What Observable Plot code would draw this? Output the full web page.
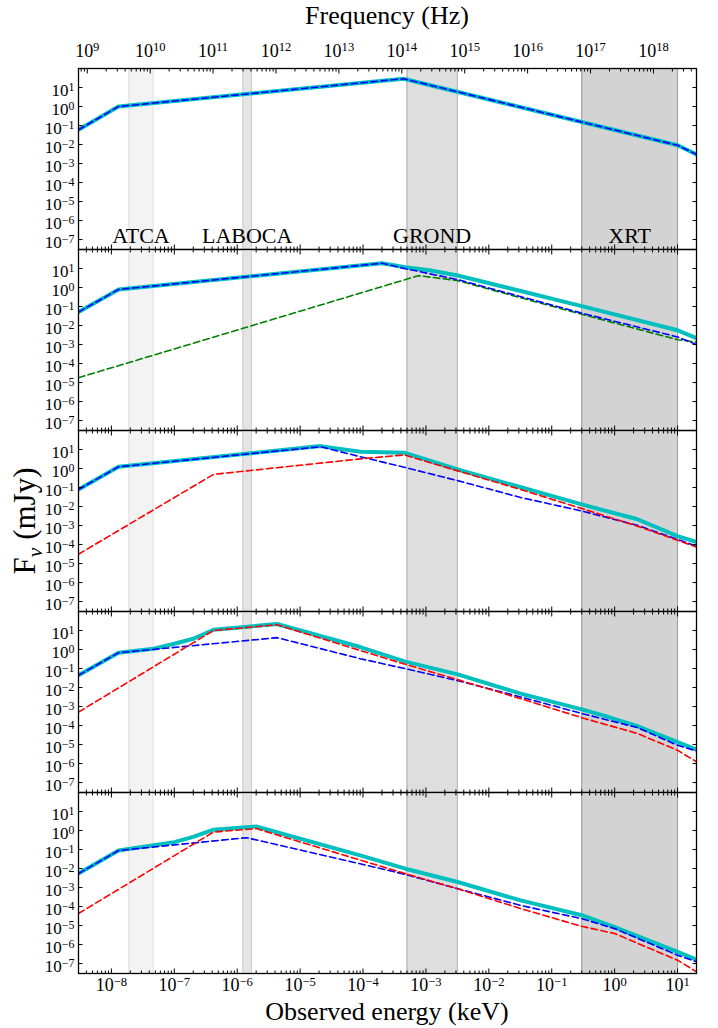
<!DOCTYPE html>
<html>
<head>
<meta charset="utf-8">
<script src="https://cdn.jsdelivr.net/npm/d3@7"></script>
<script src="https://cdn.jsdelivr.net/npm/@observablehq/plot@0.6"></script>
<style>
  html, body { margin: 0; padding: 0; background: #fff; }
  #fig { position: relative; width: 718px; height: 1028px; overflow: hidden;
         font-family: "Liberation Serif", "Times New Roman", serif; color: #000; }
  #fig svg { position: absolute; left: 0; overflow: visible; }
  .axlbl { position: absolute; white-space: nowrap; line-height: 1; font-family: "Liberation Serif", serif; }
</style>
</head>
<body>
<div id="fig"></div>
<script>
// ---------------- DATA ----------------
const energyDomain = [3e-9, 20];      // keV
const fluxDomain = [3e-8, 100];       // mJy
const keVtoHz = 2.418e17;

const energyTickExp = [-8, -7, -6, -5, -4, -3, -2, -1, 0, 1];
const freqTickExp = [9, 10, 11, 12, 13, 14, 15, 16, 17, 18];
const fluxTickExp = [-7, -6, -5, -4, -3, -2, -1, 0, 1];

const bandNames = ["ATCA", "LABOCA", "GROND", "XRT"];
const bandLo = [1.9e-8, 1.23e-6, 5.0e-4, 0.3];
const bandHi = [4.6e-8, 1.69e-6, 3.15e-3, 10];

// Panel 1
const p1_total_keV = [3e-9, 1.3e-8, 4.4e-4, 10, 20];
const p1_total_mJy = [0.06, 1.0, 29, 0.0091, 0.003];
const p1_blue_keV = [3e-9, 1.3e-8, 4.4e-4, 10, 20];
const p1_blue_mJy = [0.06, 1.0, 29, 0.0091, 0.003];

// Panel 2
const p2_total_keV = [3e-9, 1.3e-8, 2e-4, 4.7e-4, 1.2e-3, 3.2e-3, 0.3, 10, 20];
const p2_total_mJy = [0.051, 0.79, 19, 11.7, 7.9, 4.3, 0.105, 0.0056, 0.0022];
const p2_blue_keV = [3e-9, 1.3e-8, 2e-4, 4.7e-4, 3.2e-3, 0.3, 10, 20];
const p2_blue_mJy = [0.051, 0.79, 19, 9.8, 2.6, 0.045, 0.0025, 0.001];
const p2_green_keV = [3e-9, 7.6e-4, 3.2e-3, 0.3, 10, 20];
const p2_green_mJy = [1.8e-5, 4.2, 2.3, 0.039, 0.0018, 0.00135];

// Panel 3
const p3_total_keV = [3e-9, 1.3e-8, 2.1e-5, 9e-5, 4.5e-4, 3.2e-3, 0.3, 2.3, 10, 20];
const p3_total_mJy = [0.079, 1.23, 15.1, 7.6, 6.8, 0.89, 0.0129, 0.00214, 2.8e-4, 1.35e-4];
const p3_blue_keV = [3e-9, 1.3e-8, 2.1e-5, 9e-5, 4.5e-4, 3.2e-3, 0.032, 0.3, 2.3, 20];
const p3_blue_mJy = [0.079, 1.23, 14, 4.2, 1.17, 0.23, 0.030, 0.0058, 0.00102, 8.3e-5];
const p3_red_keV = [3e-9, 4.2e-7, 9e-5, 4.5e-4, 3.2e-3, 0.032, 0.3, 2.3, 20];
const p3_red_mJy = [3.1e-5, 0.49, 3.2, 5.2, 0.75, 0.079, 0.0078, 0.00093, 7.4e-5];

// Panel 4
const p4_total_keV = [3e-9, 1.3e-8, 4.7e-8, 1e-7, 2e-7, 4.2e-7, 4.3e-6, 9e-5, 4.7e-4, 3.2e-3, 0.032, 0.3, 0.8, 2.3, 10, 20];
const p4_total_mJy = [0.044, 0.68, 1.1, 2.0, 3.7, 11, 22, 1.35, 0.23, 0.049, 0.0048, 7.1e-4, 2.8e-4, 9.3e-5, 1.35e-5, 5.5e-6];
const p4_blue_keV = [3e-9, 1.3e-8, 4.3e-6, 9e-5, 4.7e-4, 3.2e-3, 0.032, 0.3, 2.3, 10, 20];
const p4_blue_mJy = [0.044, 0.68, 4.2, 0.33, 0.098, 0.023, 0.0032, 4.3e-4, 7.8e-5, 9.1e-6, 4.6e-6];
const p4_red_keV = [3e-9, 4.2e-7, 4.3e-6, 9e-5, 4.7e-4, 3.2e-3, 0.032, 0.3, 2.3, 10, 20];
const p4_red_mJy = [5.1e-4, 10, 20, 0.89, 0.166, 0.026, 0.0026, 2.6e-4, 3.8e-5, 5e-6, 1.23e-6];

// Panel 5
const p5_total_keV = [3e-9, 1.3e-8, 4.7e-8, 1e-7, 2e-7, 4.2e-7, 2e-6, 9e-5, 4.7e-4, 3.2e-3, 0.032, 0.3, 1.0, 10, 20];
const p5_total_mJy = [0.0054, 0.089, 0.166, 0.245, 0.46, 1.1, 1.62, 0.049, 0.0098, 0.00195, 2.1e-4, 3.5e-5, 8.3e-6, 4.1e-7, 1.6e-7];
const p5_blue_keV = [3e-9, 1.3e-8, 1.4e-6, 9e-5, 4.7e-4, 3.2e-3, 0.032, 0.3, 1.0, 10, 20];
const p5_blue_mJy = [0.0054, 0.089, 0.42, 0.0178, 0.0049, 8.7e-4, 1.15e-4, 2.3e-5, 6.9e-6, 2.75e-7, 1.23e-7];
const p5_red_keV = [3e-9, 4.2e-7, 2e-6, 9e-5, 4.7e-4, 3.2e-3, 0.032, 0.3, 1.0, 10, 20];
const p5_red_mJy = [4.3e-5, 0.83, 1.26, 0.028, 0.0054, 8.7e-4, 7.8e-5, 9.1e-6, 3.8e-6, 1.5e-7, 3.7e-8];

// ---------------- STYLE / LAYOUT ----------------
const FONT = '"Liberation Serif", "Times New Roman", serif';
const W = 718, ML = 78, MR = 22, TOP = 68, PH = 181, BOTTOM = 55;
const CYAN = "#00bfbf", BLUE = "#0000ff", RED = "#ff0000", GREEN = "#008000";
const DASH = "6.5,3.5";
const TICKFONT = 18, YTICKFONT = 17;
const bandStyle = {
  ATCA:   {fill: "#f3f3f3", edge: "#dcdcdc"},
  LABOCA: {fill: "#e4e4e4", edge: "#cccccc"},
  GROND:  {fill: "#dedede", edge: "#a8a8a8"},
  XRT:    {fill: "#d3d3d3", edge: "#999999"}
};

const rows = (E, F) => E.map((e, i) => ({e, f: F[i]}));
const bands = bandNames.map((name, i) => ({name, lo: bandLo[i], hi: bandHi[i]}));

const majorE = energyTickExp.map(k => 10 ** k);
const majorHz = freqTickExp.map(k => 10 ** k);
const majorF = fluxTickExp.map(k => 10 ** k);
function minorTicks(lo, hi) {
  const out = [];
  for (let k = Math.floor(Math.log10(lo)); k <= Math.ceil(Math.log10(hi)); k++)
    for (let m = 2; m <= 9; m++) { const v = m * 10 ** k; if (v >= lo && v <= hi) out.push(v); }
  return out;
}
const minorE = minorTicks(energyDomain[0], energyDomain[1]);
const hzDomain = [energyDomain[0] * keVtoHz, energyDomain[1] * keVtoHz];
const minorHz = minorTicks(hzDomain[0], hzDomain[1]);
const fmtPow = d => "10^" + String(Math.round(Math.log10(d))).replace("-", "\u2212");

const panels = [
  {total: rows(p1_total_keV, p1_total_mJy), comps: [[rows(p1_blue_keV, p1_blue_mJy), BLUE]]},
  {total: rows(p2_total_keV, p2_total_mJy), comps: [[rows(p2_green_keV, p2_green_mJy), GREEN], [rows(p2_blue_keV, p2_blue_mJy), BLUE]]},
  {total: rows(p3_total_keV, p3_total_mJy), comps: [[rows(p3_blue_keV, p3_blue_mJy), BLUE], [rows(p3_red_keV, p3_red_mJy), RED]]},
  {total: rows(p4_total_keV, p4_total_mJy), comps: [[rows(p4_blue_keV, p4_blue_mJy), BLUE], [rows(p4_red_keV, p4_red_mJy), RED]]},
  {total: rows(p5_total_keV, p5_total_mJy), comps: [[rows(p5_blue_keV, p5_blue_mJy), BLUE], [rows(p5_red_keV, p5_red_mJy), RED]]}
];

const fig = document.getElementById("fig");
const svgStyle = {background: "transparent", overflow: "visible", fontFamily: FONT, fontSize: TICKFONT + "px", color: "black"};

const tickAxis = (k, anchor, ticks, size) =>
  (k === "x" ? Plot.axisX : Plot.axisY)({anchor, ticks, tickSize: -size, fill: "none", stroke: "black",
    strokeWidth: 1, label: null, tickFormat: () => ""});

panels.forEach((p, i) => {
  const first = i === 0, last = i === panels.length - 1;
  const mt = first ? TOP : 0, mb = last ? BOTTOM : 0;
  const marks = [];
  bands.forEach(b => {
    marks.push(Plot.rect([b], {x1: "lo", x2: "hi", fill: bandStyle[b.name].fill}));
    marks.push(Plot.ruleX([b.lo, b.hi], {stroke: bandStyle[b.name].edge, strokeWidth: 1}));
  });
  marks.push(Plot.line(p.total, {x: "e", y: "f", stroke: CYAN, strokeWidth: 4, strokeLinejoin: "round", clip: true}));
  p.comps.forEach(([data, color]) =>
    marks.push(Plot.line(data, {x: "e", y: "f", stroke: color, strokeWidth: 1.6, strokeDasharray: DASH, clip: true})));
  if (first) {
    marks.push(Plot.text(bands, {x: d => Math.sqrt(d.lo * d.hi), text: "name", frameAnchor: "bottom",
      lineAnchor: "bottom", dy: -7, fontSize: 22, fill: "black"}));
  }
  // ticks (inward, all four sides)
  marks.push(tickAxis("x", "bottom", majorE, 4.5), tickAxis("x", "bottom", minorE, 2.5));
  if (!first) marks.push(tickAxis("x", "top", majorE, 4.5), tickAxis("x", "top", minorE, 2.5));
  marks.push(tickAxis("y", "left", majorF, 4.5), tickAxis("y", "right", majorF, 4.5));
  // labels
  marks.push(Plot.axisY({anchor: "left", ticks: majorF, tickSize: 0, tickPadding: 4, tickFormat: fmtPow,
    label: null, dy: 3, fill: "black", fontSize: YTICKFONT}));
  if (last) marks.push(Plot.axisX({anchor: "bottom", ticks: majorE, tickSize: 0, tickPadding: 5,
    tickFormat: fmtPow, label: null, fill: "black", fontSize: TICKFONT}));
  marks.push(Plot.frame({stroke: "black", strokeWidth: 1.3}));

  const svg = Plot.plot({
    width: W, height: PH + mt + mb, marginLeft: ML, marginRight: MR, marginTop: mt, marginBottom: mb,
    style: svgStyle,
    x: {type: "log", domain: energyDomain},
    y: {type: "log", domain: fluxDomain},
    marks
  });
  svg.style.top = (first ? 0 : TOP + PH * i) + "px";
  fig.appendChild(svg);
});

// top frequency axis (overlay on first panel)
const topSvg = Plot.plot({
  width: W, height: TOP + PH, marginLeft: ML, marginRight: MR, marginTop: TOP, marginBottom: 0,
  style: svgStyle,
  x: {type: "log", domain: hzDomain},
  marks: [
    Plot.axisX({anchor: "top", ticks: majorHz, tickSize: 0, tickPadding: 12, tickFormat: fmtPow,
      label: null, fill: "black", fontSize: TICKFONT}),
    tickAxis("x", "top", majorHz, 4.5),
    tickAxis("x", "top", minorHz, 2.5)
  ]
});
topSvg.style.top = "0px";
fig.appendChild(topSvg);

// superscripts for the 10^k tick labels
d3.select(fig).selectAll("svg text").each(function () {
  const m = /^10\^(.+)$/.exec(this.textContent);
  if (!m) return;
  const t = d3.select(this);
  t.text("");
  t.append("tspan").text("10");
  t.append("tspan").attr("dy", "-0.4em").attr("font-size", "0.7em").text(m[1]);
});

// axis titles
function addLabel(html, css) {
  const d = document.createElement("div");
  d.className = "axlbl";
  d.innerHTML = html;
  Object.assign(d.style, css);
  fig.appendChild(d);
}
addLabel("Frequency (Hz)", {left: ML + "px", width: (W - ML - MR) + "px", textAlign: "center", top: "3px", fontSize: "26px"});
addLabel("Observed energy (keV)", {left: ML + "px", width: (W - ML - MR) + "px", textAlign: "center", top: "999px", fontSize: "26px"});
addLabel('F<span style="font-size:70%;font-style:italic;position:relative;top:0.3em;">\u03bd</span> (mJy)',
  {left: "24px", top: (TOP + 2.5 * PH) + "px", fontSize: "31px", transform: "translate(-50%,-50%) rotate(-90deg)"});
</script>
</body>
</html>
